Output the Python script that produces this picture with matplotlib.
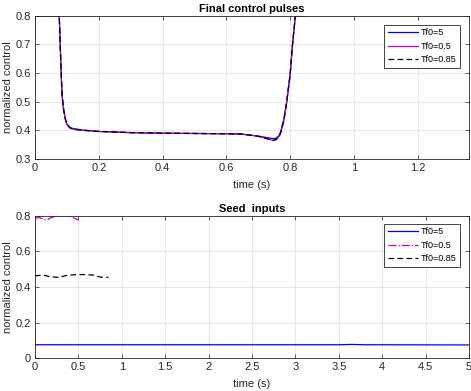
import matplotlib
matplotlib.use('Agg')
import matplotlib.pyplot as plt
import numpy as np

plt.rcParams['font.family'] = ['Liberation Sans', 'DejaVu Sans']
plt.rcParams['font.size'] = 8

labels = ['Tf0=5', 'Tf0=0.5', 'Tf0=0.85']

# final control pulses (top)
t_fin = [0, 0.05, 0.076, 0.079, 0.082, 0.085, 0.09, 0.095, 0.10, 0.11, 0.12, 0.15, 0.2,
         0.3, 0.4, 0.5, 0.6, 0.65, 0.7, 0.73, 0.745, 0.755, 0.765, 0.771, 0.78, 0.789,
         0.80, 0.807, 0.816, 0.83, 0.85]
u_fin_5 = [0.8, 0.8, 0.8, 0.7, 0.6, 0.52, 0.47, 0.44, 0.422, 0.41, 0.406, 0.401, 0.396,
           0.392, 0.39, 0.389, 0.388, 0.386, 0.38, 0.374, 0.371, 0.372, 0.382, 0.40, 0.44, 0.5,
           0.6, 0.7, 0.8, 0.8, 0.8]
u_fin_05 = [0.8, 0.8, 0.8, 0.7, 0.6, 0.52, 0.47, 0.44, 0.42, 0.408, 0.404, 0.4, 0.396,
            0.392, 0.39, 0.389, 0.388, 0.387, 0.379, 0.37, 0.365, 0.367, 0.378, 0.395, 0.435, 0.5,
            0.6, 0.7, 0.8, 0.8, 0.8]
u_fin_085 = [0.8, 0.8, 0.8, 0.7, 0.6, 0.52, 0.47, 0.44, 0.42, 0.408, 0.404, 0.4, 0.396,
             0.392, 0.39, 0.389, 0.388, 0.387, 0.379, 0.37, 0.365, 0.367, 0.378, 0.395, 0.435, 0.5,
             0.6, 0.7, 0.8, 0.8, 0.8]

# seed inputs (bottom)
t_seed_5 = [0, 1, 2, 3, 3.5, 3.65, 3.8, 4, 5]
u_seed_5 = [0.076, 0.076, 0.076, 0.076, 0.076, 0.078, 0.076, 0.076, 0.075]
t_seed_05 = [0, 0.05, 0.1, 0.135, 0.18, 0.25, 0.3, 0.365, 0.42, 0.46, 0.5]
u_seed_05 = [0.785, 0.79, 0.78, 0.776, 0.788, 0.8, 0.8, 0.8, 0.794, 0.785, 0.776]
t_seed_085 = [0, 0.096, 0.17, 0.27, 0.385, 0.48, 0.56, 0.67, 0.75, 0.846]
u_seed_085 = [0.463, 0.467, 0.458, 0.454, 0.467, 0.469, 0.47, 0.467, 0.456, 0.454]

edge = '#262626'
dash = (0, (4.5, 2.7))


def style_axes(ax):
    ax.grid(True, color='#e3e3e3', linewidth=0.6)
    ax.set_axisbelow(True)
    for s in ax.spines.values():
        s.set_color(edge)
        s.set_linewidth(0.6)
    ax.tick_params(direction='in', top=True, right=True, length=3, width=0.5,
                   colors=edge, labelsize=8, pad=3)
    ax.set_xlabel('time (s)', color=edge, labelpad=5)
    ax.set_ylabel('normalized control', color=edge, labelpad=2)


fig = plt.figure(figsize=(4.71, 3.91), dpi=100)
ax1 = fig.add_axes([0.0743, 0.5934, 0.9214, 0.3665])
ax2 = fig.add_axes([0.0743, 0.0836, 0.9214, 0.3647])

ax1.plot(t_fin, u_fin_5, color='b', lw=0.9, label=labels[0])
ax1.plot(t_fin, u_fin_05, color='m', lw=0.9, label=labels[1])
ax1.plot(t_fin, u_fin_085, color='k', lw=0.9, ls=dash, label=labels[2])
ax1.set_xlim(0, 1.36)
ax1.set_ylim(0.3, 0.8)
ax1.set_xticks([0, 0.2, 0.4, 0.6, 0.8, 1, 1.2])
ax1.set_xticklabels(['0', '0.2', '0.4', '0.6', '0.8', '1', '1.2'])
ax1.set_yticks([0.3, 0.4, 0.5, 0.6, 0.7, 0.8])
ax1.set_title('Final control pulses', fontweight='bold', fontsize=8, pad=3)
style_axes(ax1)

ax2.plot(t_seed_5, u_seed_5, color='b', lw=0.9, label=labels[0])
ax2.plot(t_seed_05, u_seed_05, color='m', lw=0.9, ls='-.', label=labels[1])
ax2.plot(t_seed_085, u_seed_085, color='k', lw=0.9, ls=dash, label=labels[2])
ax2.set_xlim(0, 5)
ax2.set_ylim(0, 0.8)
ax2.set_xticks(np.arange(0, 5.01, 0.5))
ax2.set_xticklabels(['0', '0.5', '1', '1.5', '2', '2.5', '3', '3.5', '4', '4.5', '5'])
ax2.set_yticks([0, 0.2, 0.4, 0.6, 0.8])
ax2.set_yticklabels(['0', '0.2', '0.4', '0.6', '0.8'])
ax2.set_title('Seed  inputs', fontweight='bold', fontsize=8, pad=3)
style_axes(ax2)

for ax, anchor in [(ax1, (0.979, 0.937)), (ax2, (0.979, 0.944))]:
    leg = ax.legend(loc='upper right', bbox_to_anchor=anchor, borderaxespad=0,
                    fancybox=False, framealpha=1, edgecolor=edge, fontsize=6.5,
                    handlelength=3.3, labelspacing=0.5, borderpad=0.4, handletextpad=0.3)
    leg.get_frame().set_linewidth(0.6)

fig.savefig('out.png', dpi=100)
